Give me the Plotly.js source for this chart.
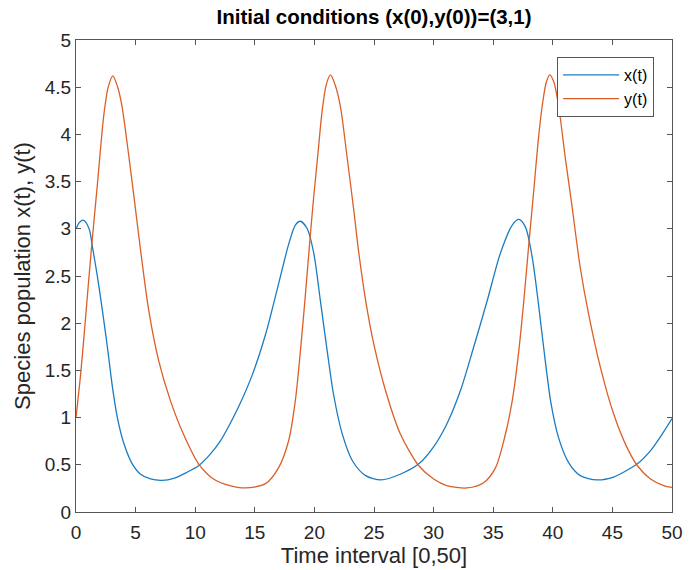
<!DOCTYPE html>
<html>
<head>
<meta charset="utf-8">
<script src="https://cdn.plot.ly/plotly-3.0.1.min.js"></script>
<style>html,body{margin:0;padding:0;background:#fff;}#chart{width:694px;height:570px;}</style>
</head>
<body>
<div id="chart"></div>
<script>
// x(t) samples
const tX = [0, 0.3, 0.64, 1.1, 1.39, 1.8, 2.22, 2.64, 3.06, 3.47, 4.03, 4.72, 5.42, 6.25, 7.22, 8.2, 9.3, 10.28, 11.25, 12.1, 12.9, 13.66, 14.78, 15.9, 17.0, 17.85, 18.4, 18.83, 19.4, 19.95, 20.5, 21.07, 21.6, 22.33, 23.2, 24.3, 25.6, 27.2, 28.76, 30.0, 31.1, 32.26, 33.37, 34.5, 35.6, 36.6, 37.15, 37.7, 38.27, 38.8, 39.35, 39.85, 40.5, 41.34, 42.3, 43.7, 45.1, 46.2, 47.1, 48.2, 49.2, 50];
const xVals = [3.0, 3.07, 3.09, 3.0, 2.80, 2.49, 2.13, 1.74, 1.32, 1.0, 0.72, 0.51, 0.40, 0.35, 0.336, 0.357, 0.42, 0.49, 0.61, 0.75, 0.93, 1.12, 1.45, 1.88, 2.42, 2.84, 3.04, 3.08, 3.0, 2.74, 2.24, 1.71, 1.25, 0.83, 0.54, 0.385, 0.34, 0.40, 0.51, 0.69, 0.93, 1.29, 1.75, 2.24, 2.74, 3.04, 3.10, 3.02, 2.70, 2.2, 1.62, 1.15, 0.78, 0.52, 0.385, 0.34, 0.37, 0.44, 0.51, 0.65, 0.83, 0.99];

// y(t) samples
const tY = [0, 0.42, 0.83, 1.3, 1.78, 2.33, 2.7, 3.09, 3.5, 3.87, 4.4, 4.95, 5.42, 6.11, 6.94, 7.92, 9.03, 10.28, 11.53, 12.9, 14.2, 15.9, 17.0, 17.85, 18.4, 18.83, 19.25, 19.67, 19.95, 20.3, 20.65, 21.0, 21.35, 21.75, 22.19, 22.75, 23.3, 23.7, 24.3, 24.98, 25.96, 27.2, 28.76, 30.0, 31.1, 32.8, 34.2, 35.2, 35.9, 36.6, 37.15, 37.57, 37.99, 38.4, 38.75, 39.1, 39.45, 39.75, 40.1, 40.5, 41.05, 41.6, 42.3, 43.0, 44.0, 45.1, 46.2, 47.1, 48.2, 49.3, 50];
const yVals = [1.0, 1.5, 2.1, 2.8, 3.45, 4.2, 4.5, 4.62, 4.5, 4.29, 3.8, 3.25, 2.77, 2.13, 1.60, 1.18, 0.82, 0.51, 0.35, 0.28, 0.255, 0.30, 0.47, 0.76, 1.18, 1.71, 2.31, 2.95, 3.35, 3.8, 4.25, 4.53, 4.63, 4.52, 4.29, 3.75, 3.2, 2.77, 2.24, 1.78, 1.29, 0.83, 0.49, 0.35, 0.28, 0.255, 0.31, 0.47, 0.76, 1.18, 1.71, 2.24, 2.84, 3.4, 3.9, 4.29, 4.55, 4.63, 4.55, 4.29, 3.75, 3.25, 2.59, 2.10, 1.53, 1.04, 0.69, 0.49, 0.35, 0.28, 0.26];

const seriesNames = ['x(t)', 'y(t)'];
const xTicks = [0, 5, 10, 15, 20, 25, 30, 35, 40, 45, 50];
const yTicks = [0, 0.5, 1, 1.5, 2, 2.5, 3, 3.5, 4, 4.5, 5];
const yTickText = ['0', '0.5', '1', '1.5', '2', '2.5', '3', '3.5', '4', '4.5', '5'];

const FONT = 'Liberation Sans, Arial, Helvetica, sans-serif';
const traces = [
  {x: tX, y: xVals, name: seriesNames[0], mode: 'lines', type: 'scatter',
   line: {color: '#1a7cc2', width: 1.3, shape: 'spline', smoothing: 0.8}},
  {x: tY, y: yVals, name: seriesNames[1], mode: 'lines', type: 'scatter',
   line: {color: '#dc5f28', width: 1.3, shape: 'spline', smoothing: 0.8}}
];
const axisCommon = {
  showline: true, linecolor: '#555555', linewidth: 1, mirror: 'ticks',
  ticks: 'inside', ticklen: 5, tickwidth: 1, tickcolor: '#555555',
  showgrid: false, zeroline: false,
  tickfont: {family: FONT, size: 19, color: '#262626'}
};
const layout = {
  width: 694, height: 570,
  paper_bgcolor: '#ffffff', plot_bgcolor: '#ffffff',
  margin: {l: 76, r: 22, t: 40, b: 58},
  title: {text: 'Initial conditions (x(0),y(0))=(3,1)', x: 0.539, xanchor: 'center', y: 0.97, yanchor: 'middle',
          font: {family: FONT, size: 20.5, color: '#000000', weight: 'bold'}},
  xaxis: Object.assign({}, axisCommon, {
    range: [0, 50], tickvals: xTicks, ticktext: xTicks.map(String), ticklabelstandoff: 3,
    title: {text: 'Time interval [0,50]', font: {family: FONT, size: 22, color: '#262626'}, standoff: 4}
  }),
  yaxis: Object.assign({}, axisCommon, {
    range: [0, 5], tickvals: yTicks, ticktext: yTickText,
    title: {text: 'Species population x(t), y(t)', font: {family: FONT, size: 22, color: '#262626'}, standoff: 8}
  }),
  legend: {x: 0.97, y: 0.964, xanchor: 'right', yanchor: 'top',
           bgcolor: '#ffffff', bordercolor: '#555555', borderwidth: 1,
           font: {family: FONT, size: 16, color: '#000000'}, itemwidth: 56, tracegroupgap: 0},
  showlegend: true
};
Plotly.newPlot('chart', traces, layout, {displayModeBar: false, staticPlot: true});
</script>
</body>
</html>
